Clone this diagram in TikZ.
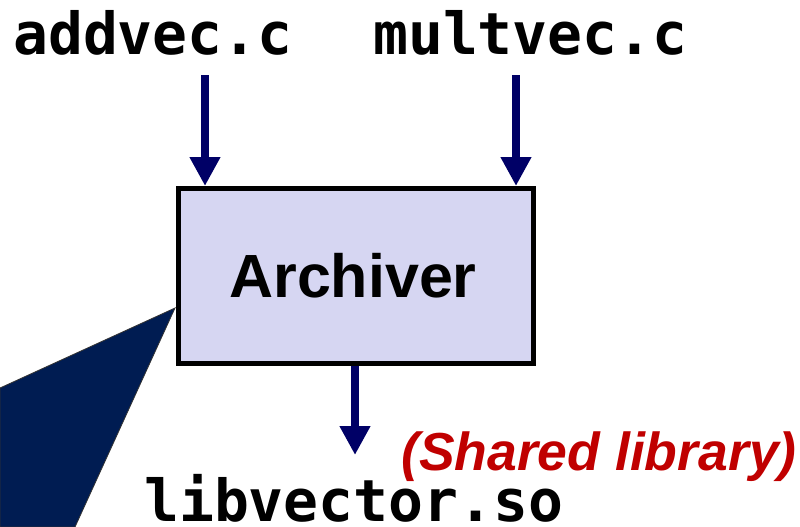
\documentclass[tikz,border=0pt]{standalone}
\usepackage{fontspec}
\setmainfont{Liberation Sans}
\newfontfamily\codefont{DejaVu Sans Mono}
\usetikzlibrary{arrows.meta}

\definecolor{boxfill}{RGB}{214,214,242}
\definecolor{arrownavy}{RGB}{0,0,102}
\definecolor{calloutnavy}{RGB}{0,28,82}
\definecolor{notered}{RGB}{192,0,0}

\tikzset{
  filename/.style={inner sep=0pt, anchor=base west,
    font=\codefont\bfseries\fontsize{58}{60}\selectfont},
  toolbox/.style={draw=black, line width=5pt, fill=boxfill,
    minimum width=355pt, minimum height=175pt, inner sep=0pt,
    font=\bfseries\fontsize{61}{63}\selectfont},
  flow/.style={draw=arrownavy, line width=8pt,
    -{Triangle[length=29pt, width=29pt, fill=arrownavy]}},
  remark/.style={inner sep=0pt, anchor=base west, text=notered,
    font=\bfseries\itshape\fontsize{53.5}{55}\selectfont}
}

\begin{document}
\begin{tikzpicture}[x=1pt, y=-1pt]
  \useasboundingbox (0,0) rectangle (800,527);

  % callout pointer running off the lower left edge
  \fill[calloutnavy, draw=black!80, line width=0.8pt]
    (175,308) -- (0,388) -- (0,527) -- (75,527) -- cycle;

  % source files
  \node[filename] (addvec) at (13,55) {addvec.c};
  \node[filename] (multvec) at (373,55) {multvec.c};

  % archiver
  \node[toolbox] (archiver) at (356,276) {\hspace*{-6pt}Archiver};

  % output
  \node[filename] (libvec) at (144,521) {libvector.so};
  \node[remark] (shared) at (401,470) {(Shared library)};

  % connectors
  \coordinate (inA) at (205,75);
  \coordinate (inB) at (516,75);
  \coordinate (outTip) at (355,455);
  \draw[flow] (inA) -- (inA |- archiver.north);
  \draw[flow] (inB) -- (inB |- archiver.north);
  \draw[flow] (outTip |- archiver.south) -- (outTip);
\end{tikzpicture}
\end{document}
